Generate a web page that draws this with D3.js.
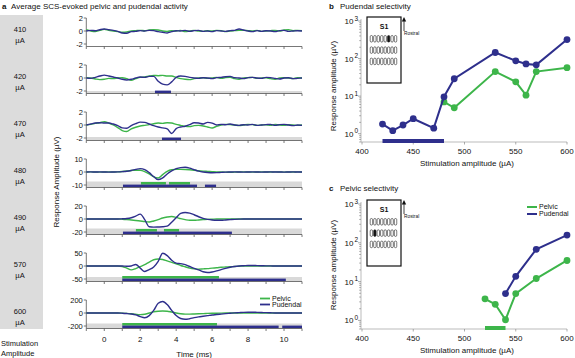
<!DOCTYPE html>
<html>
<head>
<meta charset="utf-8">
<script src="https://cdn.jsdelivr.net/npm/d3@7"></script>
<style>
  body { margin: 0; background: #fff; }
  svg { display: block; font-family: "Liberation Sans", Arial, sans-serif; }
</style>
</head>
<body>
<div id="chart"></div>
<script>
// ---- panel a : averaged traces ----
const timeMs = [-1, -0.75, -0.5, -0.25, 0, 0.25, 0.5, 0.75, 1, 1.25, 1.5, 1.75, 2, 2.25, 2.5, 2.75,
  3, 3.25, 3.5, 3.75, 4, 4.25, 4.5, 4.75, 5, 5.25, 5.5, 5.75, 6, 6.25, 6.5, 6.75, 7, 7.25, 7.5, 7.75,
  8, 8.25, 8.5, 8.75, 9, 9.25, 9.5, 9.75, 10, 10.25, 10.5, 10.75, 11];
const stimLabels = ["410", "420", "470", "480", "490", "570", "600"];
const rowTickMax = [2, 2, 2, 10, 20, 50, 200];
const timeTicks = [0, 2, 4, 6, 8, 10];

const pelvicTraces = [
  [0.2, 0, -0.1, 0.1, 0.25, 0.1, 0, -0.1, -0.2, -0.15, 0, 0.05, 0.1, 0.05, 0.15, 0.2, 0.15, 0, -0.05, 0.05,
   0, 0.1, -0.1, 0, 0.1, 0, -0.05, 0.05, 0, 0.1, 0.05, -0.1, 0, 0.05, 0.1, 0.1, 0.05, 0, 0.1, -0.05,
   0, 0.05, 0.1, 0, 0.15, 0.2, 0.05, 0.1, 0.05],
  [0.05, 0, -0.15, -0.25, -0.2, -0.05, -0.1, 0, 0.05, -0.1, -0.35, -0.1, 0.1, 0.15, 0.3, 0.4, 0.35, 0.4, 0.3, 0.3,
   0.1, -0.1, -0.2, -0.25, -0.1, 0, 0.05, -0.05, 0, 0.1, -0.05, 0.05, 0.1, -0.1, -0.2, 0, 0.05, 0.1, -0.05, 0,
   0.05, -0.1, -0.2, 0, 0.05, 0, -0.1, 0.05, 0],
  [0, 0.1, 0.25, 0.35, 0.5, 0.3, 0, -0.4, -0.85, -1.0, -0.6, -0.35, -0.15, -0.05, 0.05, 0.2, 0.3, 0.25, 0.35, 0.3,
   0.1, -0.05, -0.2, -0.25, -0.1, -0.05, -0.15, -0.3, -0.45, -0.2, 0, 0.1, 0.05, 0, -0.1, 0, 0.1, 0.05, -0.05, 0,
   0.05, -0.05, 0.1, 0, -0.05, 0.05, 0, -0.05, 0],
  [0, 0.1, 0, -0.1, 0, 0.1, 0, 0.1, 0.4, 0.8, 1.1, 1.4, 1.3, 0.3, -1.5, -3.8, -4.6, -2.0, 0.5, 1.7,
   2.0, 2.0, 1.9, 1.7, 1.4, 1.0, 0.7, 0.5, 0.3, 0.1, 0, -0.1, -0.2, -0.1, 0, 0.1, 0, -0.1, 0, 0.1,
   0, 0, 0.1, 0, -0.1, 0, 0, 0.1, 0],
  [0, 0, 0, 0, 0, 0, 0, 0, -0.3, -0.8, -1.5, -2.2, -3, -4, -4.5, -3, -1, 1.5, 3, 3.8,
   2.5, 0.5, -1, -2, -2, -1.5, -1, -0.5, -0.3, 0, 0, 0, 0, 0, 0, 0, 0, 0, 0, 0,
   0, 0, 0, 0, 0, 0, 0, 0, 0],
  [0, 0, 0, 0, 0, 0, 0, 0, -2, -8, -15, -10, -2, 5, 15, 24, 27, 25, 20, 14,
   8, 2, -3, -8, -11, -12, -11, -10, -8, -7, -5, -4, -3, -2, -1, 0, 0, 0, 0, 0,
   0, 0, 0, 0, 0, 0, 0, 0, 0],
  [0, 0, 0, 0, 0, 0, 0, 0, -2, -6, -12, -20, -25, -20, 0, 18, 27, 30, 28, 15,
   0, -12, -18, -18, -15, -12, -9, -6, -4, -3, -2, -1, 0, 0, 0, 0, 0, 0, 0, 0,
   0, 0, 0, 0, 0, 0, 0, 0, 0]
];

const pudendalTraces = [
  [0, 0.1, 0.05, 0.2, 0.3, 0.2, 0.1, -0.05, -0.3, -0.35, -0.1, -0.05, 0.05, 0, 0.1, 0.05, -0.1, -0.2, -0.3, -0.1,
   0.05, 0, 0.1, -0.05, 0.05, 0.1, -0.05, 0, -0.1, 0.05, 0, -0.05, 0.05, 0.1, 0.3, 0.15, 0, -0.1, 0.05, -0.05,
   0.05, 0, -0.1, 0.05, 0.1, -0.05, 0, 0.05, 0],
  [0, -0.05, 0.1, 0.3, 0.45, 0.3, 0.15, 0, -0.2, -0.3, -0.2, 0, 0.15, 0.1, 0.25, 0.25, -0.5, -0.95, -1.05, -0.6,
   0.1, 0.3, 0.25, 0.1, 0, -0.05, 0.05, 0, -0.1, 0.05, 0.1, 0.2, 0.25, 0.05, 0, -0.1, 0.05, 0.1, 0, -0.05,
   0.1, 0.05, -0.05, -0.15, 0, 0.05, -0.1, -0.05, 0],
  [0, 0.15, 0.3, 0.35, 0.3, 0.3, 0.15, -0.1, -0.45, -0.5, -0.1, 0.2, 0.45, 0.4, 0.15, -0.1, -0.3, -0.45, -0.6, -1.3,
   -0.55, -0.3, -0.2, 0.05, 0.35, 0.3, 0.15, 0.4, 0.3, 0, 0.1, 0.05, 0.15, 0, -0.05, 0.05, 0, 0.1, -0.05, 0,
   0.05, 0.1, -0.05, 0.05, 0.1, 0, -0.1, 0, -0.05],
  [0, 0.1, 0, 0.1, 0, -0.1, 0, 0.1, 0.3, 0.6, 1.2, 2.0, 2.6, 1.8, -0.5, -3.5, -5.9, -4.5, -1.5, 0.8,
   2.6, 3.4, 3.6, 3.0, 1.8, 0.7, 0, -0.4, -0.6, -0.5, -0.3, -0.1, 0, 0.1, 0, -0.1, 0, 0.1, 0, -0.1,
   0, 0.1, 0, 0, -0.1, 0, 0.1, 0, 0],
  [0, 0, 0, 0, 0, 0, 0, 0, 0.3, 0.8, 2, 4.5, 7.5, -1, -12, -12.5, -12.3, -12, -11, -5,
   2, 8.5, 10, 9, 6.5, 3.5, 1, -0.5, -1.5, -2, -2, -1.5, -1, -0.5, -0.2, 0, 0, 0, 0, 0,
   0, 0, 0, 0, 0, 0, 0, 0, 0],
  [0, 0, 0, 0, 0, 0, 0, 0, 0, -1, 0, 6, -8, -21, -14, -4, 18, 49, 40, 22,
   11, 9, 5, -2, -9, -15, -22, -25, -23, -19, -14, -9, -5, -2, 0, 1, 2, 2, 1.5, 1,
   0.5, 0.5, 0, 0, 0, 0, 0, 0, 0],
  [0, 0, 0, 0, 0, 0, 0, 0, -3, -8, -15, -28, -55, -72, -40, 40, 150, 176, 130, 40,
   -40, -85, -97, -88, -72, -60, -50, -40, -30, -24, -17, -10, -4, 2, 6, 10, 12, 12, 10, 8,
   5, 3, 1, 0, 0, 0, 0, 0, 0]
];

// significant windows (ms)
const pelvicSig = [[], [], [], [[2.04, 3.43], [3.6, 4.77]], [[1.76, 2.93], [3.32, 4.16]], [[1, 6.38]], [[1, 6.27]]];
const pudendalSig = [[], [[2.82, 3.71]], [[3.21, 4.27]], [[1.04, 5.16], [5.6, 6.22]], [[1.04, 7.1]], [[1, 10.1]], [[1, 9.7], [9.9, 11]]];

// ---- panels b and c : selectivity ----
const ampTicks = [400, 450, 500, 550, 600];
const decadeTicks = [1, 10, 100, 1000];

const bPudAmp = [420, 430, 440, 450, 470, 480, 490, 530, 550, 560, 570, 600];
const bPudVal = [1.8, 1.2, 1.7, 2.5, 1.4, 9.6, 29, 145, 87, 72, 68, 320];
const bPelAmp = [480, 490, 530, 550, 560, 570, 600];
const bPelVal = [7, 4.9, 45, 24, 10.6, 45, 57];
const bSelective = [420, 480];

const cPelAmp = [520, 530, 540, 550, 570, 600];
const cPelVal = [3.6, 2.6, 1.04, 4.9, 12, 35];
const cPudAmp = [540, 550, 570, 600];
const cPudVal = [4.9, 13.7, 68, 158];
const cSelective = [520, 540];

const BLUE = "#2e2f8c";
const GREEN = "#3db54a";
const BAND = "#d9d9d9";
const AXIS = "#555";

const W = 575, H = 358;
const svg = d3.select("#chart").append("svg").attr("width", W).attr("height", H);

function label(g, x, y, txt, opts) {
  opts = opts || {};
  return g.append("text")
    .attr("x", x).attr("y", y)
    .attr("font-size", opts.size || 8)
    .attr("font-weight", opts.bold ? "bold" : null)
    .attr("text-anchor", opts.anchor || "start")
    .attr("fill", opts.fill || "#111")
    .text(txt);
}

// ================= panel a =================
const rowZero0 = 31, rowStep = 47, halfH = 13;
const bandH = [0, 2.5, 3.5, 6, 6, 4.5, 5];
const x = d3.scaleLinear().domain([-1, 11]).range([86.3, 302]);

label(svg, 2, 9, "a", { bold: true });
label(svg, 11, 9, "Average SCS-evoked pelvic and pudendal activity");

svg.append("rect").attr("x", 0).attr("y", 15).attr("width", 43).attr("height", 314).attr("fill", "#dcdcdc");

stimLabels.forEach((s, i) => {
  let zero = rowZero0 + rowStep * i;
  let axisY = zero + 15.5;
  let tmax = rowTickMax[i];
  let y = d3.scaleLinear().domain([-tmax, tmax]).range([zero + halfH, zero - halfH]);
  let g = svg.append("g");

  label(g, 20, zero + 0.5, s, { size: 7.5, anchor: "middle" });
  label(g, 20, zero + 12, "µA", { size: 7.5, anchor: "middle" });

  if (bandH[i] > 0) {
    g.append("rect").attr("x", x(-1)).attr("y", axisY - bandH[i])
      .attr("width", x(11) - x(-1)).attr("height", bandH[i]).attr("fill", BAND);
  }

  // significance bars
  pelvicSig[i].forEach(r => {
    g.append("rect").attr("x", x(r[0])).attr("width", x(r[1]) - x(r[0]))
      .attr("y", zero + 10).attr("height", 2.6).attr("fill", GREEN);
  });
  pudendalSig[i].forEach(r => {
    g.append("rect").attr("x", x(r[0])).attr("width", x(r[1]) - x(r[0]))
      .attr("y", zero + 12.6).attr("height", 2.6).attr("fill", BLUE);
  });

  // axes
  g.append("line").attr("x1", x(-1)).attr("x2", x(11)).attr("y1", axisY).attr("y2", axisY)
    .attr("stroke", AXIS).attr("stroke-width", 0.8);
  d3.range(-1, 12).forEach(t => {
    g.append("line").attr("x1", x(t)).attr("x2", x(t)).attr("y1", axisY).attr("y2", axisY + 2.5)
      .attr("stroke", AXIS).attr("stroke-width", 0.8);
  });
  g.append("line").attr("x1", x(-1)).attr("x2", x(-1)).attr("y1", y(tmax)).attr("y2", axisY)
    .attr("stroke", AXIS).attr("stroke-width", 0.8);
  [tmax, 0, -tmax].forEach(v => {
    g.append("line").attr("x1", x(-1) - 2.5).attr("x2", x(-1)).attr("y1", y(v)).attr("y2", y(v))
      .attr("stroke", AXIS).attr("stroke-width", 0.8);
    label(g, x(-1) - 3.5, y(v) + 2.6, v, { size: 7.5, anchor: "end" });
  });

  let line = d3.line().x((d, k) => x(timeMs[k])).y(d => y(d)).curve(d3.curveMonotoneX);
  g.append("path").attr("d", line(pelvicTraces[i])).attr("fill", "none")
    .attr("stroke", GREEN).attr("stroke-width", 1.4);
  g.append("path").attr("d", line(pudendalTraces[i])).attr("fill", "none")
    .attr("stroke", BLUE).attr("stroke-width", 1.4);
});

let lastAxisY = rowZero0 + rowStep * 6 + 15.5;
timeTicks.forEach(t => label(svg, x(t), lastAxisY + 13, t, { size: 8, anchor: "middle" }));
label(svg, x(5), 357, "Time (ms)", { size: 8, anchor: "middle" });
label(svg, 1, 346, "Stimulation", { size: 7.5 });
label(svg, 1, 356, "Amplitude", { size: 7.5 });

svg.append("text").attr("transform", "translate(59,182) rotate(-90)")
  .attr("text-anchor", "middle").attr("font-size", 8).attr("fill", "#111")
  .text("Response Amplitude (µV)");

// legend a
[["Pelvic", GREEN, 298.5], ["Pudendal", BLUE, 304.5]].forEach(d => {
  svg.append("line").attr("x1", 260).attr("x2", 270).attr("y1", d[2]).attr("y2", d[2])
    .attr("stroke", d[1]).attr("stroke-width", 1.8);
  label(svg, 272, d[2] + 2.3, d[0], { size: 7 });
});

// ================= panels b & c =================
const xAmp = d3.scaleLinear().domain([400, 600]).range([362, 567]);

function selectivityPanel(opt) {
  let g = svg.append("g");
  let y = d3.scaleLog().domain([0.6, 1000]).range([opt.bottom, opt.top]);
  let axisX = 361;

  label(g, 329, opt.titleY, opt.letter, { bold: true });
  label(g, 340, opt.titleY, opt.title);

  // y axis (log) with minor ticks
  g.append("line").attr("x1", axisX).attr("x2", axisX).attr("y1", y(1000) - 2).attr("y2", opt.bottom)
    .attr("stroke", "#aaa").attr("stroke-width", 0.8);
  [0.1, 1, 10, 100].forEach(dec => {
    d3.range(1, 10).forEach(m => {
      let v = dec * m;
      if (v < 0.6 || v > 1000) return;
      let major = m === 1 && dec >= 1;
      g.append("line").attr("x1", axisX - (major ? 3 : 1.8)).attr("x2", axisX)
        .attr("y1", y(v)).attr("y2", y(v)).attr("stroke", "#888").attr("stroke-width", 0.7);
    });
  });
  g.append("line").attr("x1", axisX - 3).attr("x2", axisX).attr("y1", y(1000)).attr("y2", y(1000))
    .attr("stroke", "#888").attr("stroke-width", 0.7);
  decadeTicks.forEach((v, k) => {
    let t = g.append("text").attr("x", axisX - 3).attr("y", y(v) + 3)
      .attr("text-anchor", "end").attr("font-size", 8).attr("fill", "#111");
    t.append("tspan").text("10");
    t.append("tspan").attr("dy", -3.5).attr("dx", 1).attr("font-size", 6.5).text(k);
  });

  // x axis
  g.append("line").attr("x1", axisX).attr("x2", xAmp(600)).attr("y1", opt.bottom).attr("y2", opt.bottom)
    .attr("stroke", "#aaa").attr("stroke-width", 0.8);
  ampTicks.forEach(v => {
    g.append("line").attr("x1", xAmp(v)).attr("x2", xAmp(v)).attr("y1", opt.bottom).attr("y2", opt.bottom + 2.5)
      .attr("stroke", "#888").attr("stroke-width", 0.7);
    label(g, xAmp(v), opt.bottom + 12, v, { anchor: "middle" });
  });
  label(g, 467, opt.bottom + 24, "Stimulation amplitude (µA)", { anchor: "middle" });
  g.append("text").attr("transform", "translate(336," + opt.labelY + ") rotate(-90)")
    .attr("text-anchor", "middle").attr("font-size", 8).attr("fill", "#111")
    .text("Response amplitude (µV)");

  // selective window bar
  g.append("rect").attr("x", xAmp(opt.sel[0])).attr("width", xAmp(opt.sel[1]) - xAmp(opt.sel[0]))
    .attr("y", opt.bottom - 3).attr("height", 4).attr("fill", opt.selColor);

  // series
  let line = d3.line().x(d => xAmp(d[0])).y(d => y(d[1]));
  opt.series.forEach(s => {
    let pts = s.amp.map((a, k) => [a, s.val[k]]);
    g.append("path").attr("d", line(pts)).attr("fill", "none")
      .attr("stroke", s.color).attr("stroke-width", 2);
    g.selectAll(null).data(pts).enter().append("circle")
      .attr("cx", d => xAmp(d[0])).attr("cy", d => y(d[1])).attr("r", 3.4).attr("fill", s.color);
  });

  // electrode inset
  let bx = 367, by = opt.top - 4;
  g.append("rect").attr("x", bx).attr("y", by).attr("width", 34).attr("height", 66)
    .attr("fill", "#fff").attr("stroke", "#111").attr("stroke-width", 1.2);
  label(g, bx + 17, by + 12, "S1", { size: 7, bold: true, anchor: "middle" });
  [0, 1, 2].forEach(r => {
    d3.range(8).forEach(c => {
      let on = r === opt.active[0] && c === opt.active[1];
      g.append("rect").attr("x", bx + 3.2 + c * 3.45).attr("y", by + 18.5 + r * 11.3)
        .attr("width", 2.4).attr("height", 6.6).attr("rx", 1.2)
        .attr("fill", on ? "#111" : "#fff").attr("stroke", "#222").attr("stroke-width", 0.6);
    });
  });
  g.append("line").attr("x1", 404).attr("x2", 404).attr("y1", by + 14).attr("y2", by + 3)
    .attr("stroke", "#111").attr("stroke-width", 0.8);
  g.append("path").attr("d", `M${401.8},${by + 4.5} L404,${by} L406.2,${by + 4.5} Z`).attr("fill", "#111");
  label(g, 404, by + 18, "Rostral", { size: 4.8 });

  if (opt.legend) {
    [["Pelvic", GREEN, 207], ["Pudendal", BLUE, 214]].forEach(d => {
      g.append("line").attr("x1", 527).attr("x2", 537).attr("y1", d[2]).attr("y2", d[2])
        .attr("stroke", d[1]).attr("stroke-width", 2);
      label(g, 539, d[2] + 2.4, d[0], { size: 7 });
    });
  }
}

selectivityPanel({
  letter: "b", title: "Pudendal selectivity", titleY: 9, top: 21, bottom: 142, labelY: 86,
  sel: bSelective, selColor: BLUE, active: [0, 5], legend: false,
  series: [
    { amp: bPelAmp, val: bPelVal, color: GREEN },
    { amp: bPudAmp, val: bPudVal, color: BLUE }
  ]
});

selectivityPanel({
  letter: "c", title: "Pelvic selectivity", titleY: 191, top: 204, bottom: 329, labelY: 265,
  sel: cSelective, selColor: GREEN, active: [1, 1], legend: true,
  series: [
    { amp: cPelAmp, val: cPelVal, color: GREEN },
    { amp: cPudAmp, val: cPudVal, color: BLUE }
  ]
});
</script>
</body>
</html>
